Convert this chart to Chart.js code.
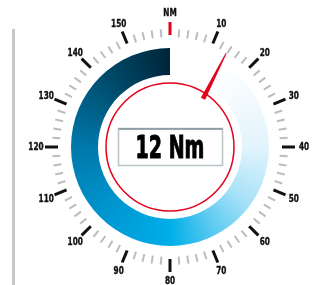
<!DOCTYPE html>
<html>
<head>
<meta charset="utf-8">
<script src="https://cdn.jsdelivr.net/npm/chart.js@4/dist/chart.umd.min.js"></script>
<style>
  html, body { margin: 0; padding: 0; background: #ffffff; }
  #wrap { position: relative; width: 313px; height: 285px; }
  #rule { position: absolute; left: 12px; top: 29px; width: 3px; height: 256px; background: #c8c8c8; }
  canvas { position: absolute; left: 0; top: 0; }
</style>
</head>
<body>
<div id="wrap">
  <div id="rule"></div>
  <canvas id="c" width="313" height="285"></canvas>
</div>
<script>
// ---- data ----
const scaleMax = 160;
const majorTickValues = [0, 10, 20, 30, 40, 50, 60, 70, 80, 90, 100, 110, 120, 130, 140, 150];
const majorTickLabels = ['NM', '10', '20', '30', '40', '50', '60', '70', '80', '90', '100', '110', '120', '130', '140', '150'];
const minorTickStep = [2];
const readingValue = [12];
const readingUnit = ['Nm'];

const FONT = "'DejaVu Sans Condensed', 'DejaVu Sans', sans-serif";

function angleOf(v) { return -Math.PI / 2 + (v / scaleMax) * Math.PI * 2; }

const gaugePlugin = {
  id: 'gauge',
  afterDatasetsDraw(chart) {
    const arc = chart.getDatasetMeta(0).data[0];
    if (!arc) return;
    const { x: cx, y: cy, outerRadius: R } = arc.getProps(['x', 'y', 'outerRadius'], true);
    const ctx = chart.ctx;
    ctx.save();

    // minor ticks
    const step = minorTickStep[0];
    ctx.strokeStyle = '#bdbdbd';
    ctx.lineWidth = 2;
    for (let v = 0; v < scaleMax; v += step) {
      if (majorTickValues.includes(v)) continue;
      const a = angleOf(v);
      const r1 = R + 11, r2 = R + 19;
      ctx.beginPath();
      ctx.moveTo(cx + Math.cos(a) * r1, cy + Math.sin(a) * r1);
      ctx.lineTo(cx + Math.cos(a) * r2, cy + Math.sin(a) * r2);
      ctx.stroke();
    }

    // major ticks + labels
    majorTickValues.forEach((v, i) => {
      const a = angleOf(v);
      const r1 = R + 13, r2 = R + 26;
      ctx.strokeStyle = i === 0 ? '#e3001b' : '#111111';
      ctx.lineWidth = 3;
      ctx.beginPath();
      ctx.moveTo(cx + Math.cos(a) * r1, cy + Math.sin(a) * r1);
      ctx.lineTo(cx + Math.cos(a) * r2, cy + Math.sin(a) * r2);
      ctx.stroke();

      const rl = R + 35;
      ctx.fillStyle = '#111111';
      ctx.strokeStyle = '#111111';
      ctx.lineWidth = 0.4;
      ctx.font = 'bold 11px ' + FONT;
      ctx.textAlign = 'center';
      ctx.textBaseline = 'middle';
      ctx.save();
      ctx.translate(cx + Math.cos(a) * rl, cy + Math.sin(a) * rl + 0.5);
      ctx.scale(0.74, 1);
      ctx.fillText(majorTickLabels[i], 0, 0);
      ctx.strokeText(majorTickLabels[i], 0, 0);
      ctx.restore();
    });

    // red inner circle
    ctx.strokeStyle = '#e3001b';
    ctx.lineWidth = 1.5;
    ctx.beginPath();
    ctx.arc(cx, cy, R - 35, 0, Math.PI * 2);
    ctx.stroke();

    // needle
    const a = angleOf(readingValue[0]);
    const dx = Math.cos(a), dy = Math.sin(a);
    const px = -dy, py = dx;
    const off = 7.5;
    const t0 = R - 41, t1 = R + 10;
    const bx = cx + px * off + dx * t0, by = cy + py * off + dy * t0;
    const tx = cx + px * off + dx * t1, ty = cy + py * off + dy * t1;
    ctx.fillStyle = '#e3001b';
    ctx.beginPath();
    ctx.moveTo(bx + px * 2.4, by + py * 2.4);
    ctx.lineTo(tx + px * 0.5, ty + py * 0.5);
    ctx.lineTo(tx - px * 0.5, ty - py * 0.5);
    ctx.lineTo(bx - px * 2.4, by - py * 2.4);
    ctx.closePath();
    ctx.fill();

    // reading box
    const bw = 104, bh = 37;
    const x0 = Math.round(cx - bw / 2) + 0.5, y0 = Math.round(cy - 19) + 0.5;
    ctx.fillStyle = '#ffffff';
    ctx.fillRect(x0, y0, bw, bh);
    ctx.strokeStyle = '#b9c4c8';
    ctx.lineWidth = 1.5;
    ctx.strokeRect(x0, y0, bw, bh);
    ctx.strokeStyle = '#7f9298';
    ctx.lineWidth = 1.5;
    ctx.beginPath();
    ctx.moveTo(x0, y0 + 0.5);
    ctx.lineTo(x0 + bw, y0 + 0.5);
    ctx.stroke();

    // reading text
    ctx.fillStyle = '#000000';
    ctx.strokeStyle = '#000000';
    ctx.lineWidth = 1;
    ctx.font = 'bold 32px ' + FONT;
    ctx.textAlign = 'center';
    ctx.textBaseline = 'alphabetic';
    ctx.save();
    ctx.translate(cx, cy + 11);
    ctx.scale(0.66, 1);
    const txt = readingValue[0] + ' ' + readingUnit[0];
    ctx.fillText(txt, 0, 0);
    ctx.strokeText(txt, 0, 0);
    ctx.restore();

    ctx.restore();
  }
};

function ringGradient(context) {
  const chart = context.chart;
  const area = chart.chartArea;
  if (!area) return '#00aee8';
  const cx = (area.left + area.right) / 2, cy = (area.top + area.bottom) / 2;
  const g = chart.ctx.createConicGradient(-Math.PI / 2, cx, cy);
  g.addColorStop(0.00, '#ffffff');
  g.addColorStop(0.10, '#fdfeff');
  g.addColorStop(0.25, '#e3f4fc');
  g.addColorStop(0.35, '#a6e1f7');
  g.addColorStop(0.42, '#5fcbf1');
  g.addColorStop(0.50, '#00aee8');
  g.addColorStop(0.60, '#009bd6');
  g.addColorStop(0.75, '#0078ab');
  g.addColorStop(0.88, '#004c6c');
  g.addColorStop(1.00, '#00253a');
  return g;
}

new Chart(document.getElementById('c'), {
  type: 'doughnut',
  data: {
    labels: ['scale'],
    datasets: [{
      data: [scaleMax],
      backgroundColor: ringGradient,
      borderWidth: 0,
      hoverOffset: 0
    }]
  },
  options: {
    responsive: false,
    animation: false,
    cutout: 72,
    layout: { padding: { left: 71, right: 44, top: 48, bottom: 39 } },
    plugins: { legend: { display: false }, tooltip: { enabled: false } },
    events: []
  },
  plugins: [gaugePlugin]
});
</script>
</body>
</html>
